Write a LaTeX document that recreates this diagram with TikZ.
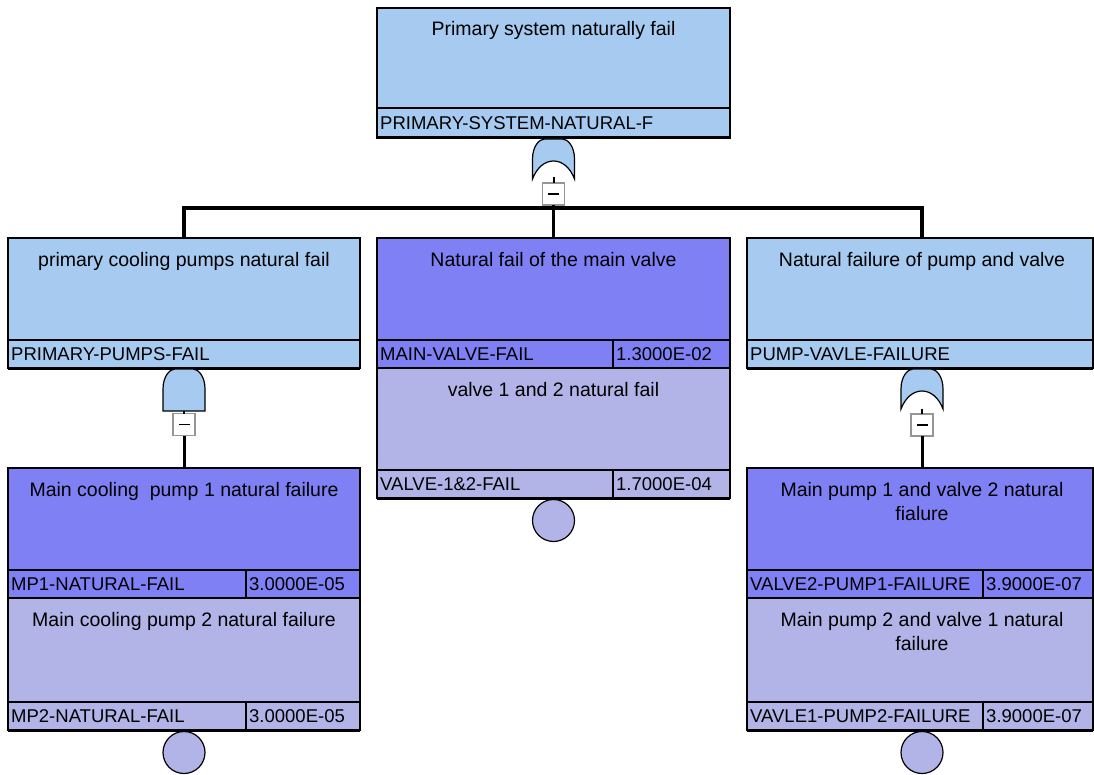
\documentclass[tikz,border=0pt]{standalone}
\usepackage{fontspec}
\setmainfont{Liberation Sans}
\definecolor{skyblue}{RGB}{166,202,240}
\definecolor{eventblue}{RGB}{128,128,245}
\definecolor{lavender}{RGB}{178,180,232}
\definecolor{boxgray}{RGB}{150,150,150}
\tikzset{
  x=1pt, y=-1pt,
  evbox/.style={draw=black, line width=1.2pt, anchor=north west, inner sep=0pt, outer sep=0pt},
  rule/.style={draw=black, line width=1.2pt},
  joinedge/.style={draw=black, line width=2.2pt},
  shadowedge/.style={draw=black, line width=3pt},
  title/.style={anchor=north, inner sep=0pt, align=center, font=\fontsize{19.5}{24}\selectfont},
  tag/.style={anchor=west, inner sep=0pt, font=\fontsize{18.5}{22}\selectfont},
  gatefill/.style={fill=skyblue, draw=black, line width=1.2pt},
  minusbox/.style={draw=boxgray, fill=white, line width=1.2pt, minimum size=22pt, inner sep=0pt, outer sep=0pt,
    path picture={\draw[black, line width=1.3pt] ([xshift=-5.5pt]path picture bounding box.center) -- ([xshift=5.5pt]path picture bounding box.center);}},
  link/.style={draw=black, line width=3pt},
  bus/.style={draw=black, line width=4pt},
  basic/.style={circle, draw=black, line width=1.2pt, fill=lavender, minimum size=42pt, inner sep=0pt, outer sep=0pt},
}
% OR gate: top centre at (#1,#2)
\newcommand\orgateat[2]{%
  \begin{scope}[shift={(#1,#2)}]
    \path[gatefill] (-21,40) -- (-21,20) .. controls (-21,7) and (-14,0) .. (-9,0) -- (9,0)
      .. controls (14,0) and (21,7) .. (21,20) -- (21,40)
      .. controls (12,16) and (-12,16) .. (-21,40) -- cycle;
  \end{scope}}
% AND gate: top centre at (#1,#2)
\newcommand\andgateat[2]{%
  \begin{scope}[shift={(#1,#2)}]
    \path[gatefill] (-21,42) -- (-21,20) .. controls (-21,7) and (-14,0) .. (-9,0) -- (9,0)
      .. controls (14,0) and (21,7) .. (21,20) -- (21,42) -- cycle;
  \end{scope}}

\begin{document}
\begin{tikzpicture}
\useasboundingbox (0,0) rectangle (1094,775);

% ---------- top event ----------
\node[evbox, fill=skyblue, minimum width=353pt, minimum height=130pt] (top) at (377,8) {};
\draw[rule] (377,108) -- (730,108);
\draw[shadowedge] (top.south west) -- (top.south east);
\node[title] (topT) at (553.5,21) {Primary system naturally fail};
\node[tag] (topL) at (380,123) {PRIMARY-SYSTEM-NATURAL-F};

\orgateat{553.5}{139}
\coordinate (g0) at (553.5,177);
\node[minusbox] (t0) at (553.5,194) {};
\draw[black, line width=2pt] (g0) -- (t0.north);

% ---------- second level ----------
\node[evbox, fill=skyblue, minimum width=352pt, minimum height=130pt] (pumps) at (8,238) {};
\draw[rule] (8,340) -- (360,340);
\draw[shadowedge] (pumps.south west) -- (pumps.south east);
\node[title] (pumpsT) at (184,252) {primary cooling pumps natural fail};
\node[tag] (pumpsL) at (11,354) {PRIMARY-PUMPS-FAIL};

\node[evbox, fill=eventblue, minimum width=353pt, minimum height=130pt] (valve) at (377,238) {};
\draw[rule] (377,340) -- (730,340);
\draw[rule] (613,340) -- (613,368);
\node[title] (valveT) at (553.5,252) {Natural fail of the main valve};
\node[tag] (valveL) at (380,354) {MAIN-VALVE-FAIL};
\node[tag] (valveP) at (616,354) {1.3000E-02};

\node[evbox, fill=skyblue, minimum width=346pt, minimum height=130pt] (pv) at (747,238) {};
\draw[rule] (747,340) -- (1093,340);
\draw[shadowedge] (pv.south west) -- (pv.south east);
\node[title] (pvT) at (922,252) {Natural failure of pump and valve};
\node[tag] (pvL) at (750,354) {PUMP-VAVLE-FAILURE};

% bus from the top gate to the three children
\coordinate (busy) at (0,208.5);
\coordinate (pvin) at (922,238);
\draw[bus] (pumps.north) -- (pumps.north |- busy) -- (pvin |- busy) -- (pvin);
\draw[link] (t0.south) -- (valve.north);

% ---------- valve 1 and 2 ----------
\node[evbox, fill=lavender, minimum width=353pt, minimum height=130pt] (v12) at (377,368) {};
\draw[joinedge] (v12.north west) -- (v12.north east);
\draw[rule] (377,470) -- (730,470);
\draw[rule] (613,470) -- (613,498);
\draw[shadowedge] (v12.south west) -- (v12.south east);
\node[title] (v12T) at (553.5,382) {valve 1 and 2 natural fail};
\node[tag] (v12L) at (380,484) {VALVE-1\&2-FAIL};
\node[tag] (v12P) at (616,484) {1.7000E-04};
\node[basic, anchor=north] (v12C) at (553.5,499.5) {};

% ---------- AND gate under the pumps ----------
\andgateat{184}{369}
\coordinate (g1) at (184,411);
\node[minusbox] (t1) at (184,424.5) {};
\draw[black, line width=2pt] (g1) -- (t1.north);

\node[evbox, fill=eventblue, minimum width=352pt, minimum height=130pt] (mp1) at (8,468) {};
\draw[rule] (8,570) -- (360,570);
\draw[rule] (246,570) -- (246,598);
\node[title] (mp1T) at (184,482) {Main cooling\ \ pump 1 natural failure};
\node[tag] (mp1L) at (11,584) {MP1-NATURAL-FAIL};
\node[tag] (mp1P) at (249,584) {3.0000E-05};
\draw[link] (t1.south) -- (mp1.north -| t1.south);

\node[evbox, fill=lavender, minimum width=352pt, minimum height=132pt] (mp2) at (8,598) {};
\draw[joinedge] (mp2.north west) -- (mp2.north east);
\draw[rule] (8,702) -- (360,702);
\draw[rule] (246,702) -- (246,730);
\draw[shadowedge] (mp2.south west) -- (mp2.south east);
\node[title] (mp2T) at (184,612) {Main cooling pump 2 natural failure};
\node[tag] (mp2L) at (11,716) {MP2-NATURAL-FAIL};
\node[tag] (mp2P) at (249,716) {3.0000E-05};
\node[basic, anchor=north] (mp2C) at (184,731.5) {};

% ---------- OR gate under pump and valve ----------
\orgateat{922}{369}
\coordinate (g2) at (922,409);
\node[minusbox] (t2) at (922,425) {};
\draw[black, line width=2pt] (g2) -- (t2.north);

\node[evbox, fill=eventblue, minimum width=346pt, minimum height=130pt] (vp1) at (747,468) {};
\draw[rule] (747,570) -- (1093,570);
\draw[rule] (983,570) -- (983,598);
\node[title] (vp1T) at (922,482) {Main pump 1 and valve 2 natural\\fialure};
\node[tag] (vp1L) at (750,584) {VALVE2-PUMP1-FAILURE};
\node[tag] (vp1P) at (986,584) {3.9000E-07};
\draw[link] (t2.south) -- (vp1.north -| t2.south);

\node[evbox, fill=lavender, minimum width=346pt, minimum height=132pt] (vp2) at (747,598) {};
\draw[joinedge] (vp2.north west) -- (vp2.north east);
\draw[rule] (747,702) -- (1093,702);
\draw[rule] (983,702) -- (983,730);
\draw[shadowedge] (vp2.south west) -- (vp2.south east);
\node[title] (vp2T) at (922,612) {Main pump 2 and valve 1 natural\\failure};
\node[tag] (vp2L) at (750,716) {VAVLE1-PUMP2-FAILURE};
\node[tag] (vp2P) at (986,716) {3.9000E-07};
\node[basic, anchor=north] (vp2C) at (922,731.5) {};
\end{tikzpicture}
\end{document}
